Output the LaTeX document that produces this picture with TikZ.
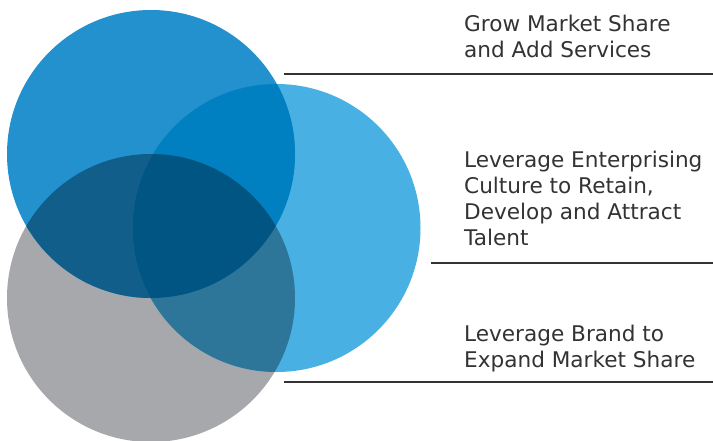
\documentclass[tikz,border=0pt]{standalone}
\usepackage{fontspec}
\setmainfont{DejaVu Sans}
\definecolor{cTop}{HTML}{2291CE}
\definecolor{cRight}{HTML}{48B0E3}
\definecolor{cGray}{HTML}{A7A8AB}
\definecolor{cTR}{HTML}{0080C1}
\definecolor{cTG}{HTML}{125E8A}
\definecolor{cRG}{HTML}{2E7699}
\definecolor{cAll}{HTML}{005583}
\definecolor{cText}{HTML}{333333}
\tikzset{
  label text/.style={anchor=base west, inner sep=0pt, align=left, text=cText,
    font=\fontsize{21.6pt}{26pt}\selectfont},
  rule line/.style={draw=cText, line width=1.3pt}
}
\begin{document}
\begin{tikzpicture}[x=1pt,y=-1pt]
\useasboundingbox (0,0) rectangle (713,440);
\fill[white] (0,0) rectangle (713,440);
\def\CT{(151,154) circle[radius=144pt]}
\def\CR{(276.5,228) circle[radius=144pt]}
\def\CG{(151,298) circle[radius=144pt]}
\fill[cGray] \CG;
\fill[cRight] \CR;
\fill[cTop] \CT;
\begin{scope}\clip \CT; \fill[cTR] \CR; \end{scope}
\begin{scope}\clip \CT; \fill[cTG] \CG; \end{scope}
\begin{scope}\clip \CR; \fill[cRG] \CG; \end{scope}
\begin{scope}\clip \CT; \clip \CR; \fill[cAll] \CG; \end{scope}
\coordinate (l1a) at (284,74); \coordinate (l1b) at (713,74);
\coordinate (l2a) at (431,263); \coordinate (l2b) at (713,263);
\coordinate (l3a) at (284,382); \coordinate (l3b) at (713,382);
\draw[rule line] (l1a) -- (l1b);
\draw[rule line] (l2a) -- (l2b);
\draw[rule line] (l3a) -- (l3b);
\node[label text] (t1) at (464,57) {Grow Market Share\\and Add Services};
\node[label text] (t2) at (464,245) {Leverage Enterprising\\Culture to Retain,\\Develop and Attract\\Talent};
\node[label text] (t3) at (464,367) {Leverage Brand to\\Expand Market Share};
\end{tikzpicture}
\end{document}
